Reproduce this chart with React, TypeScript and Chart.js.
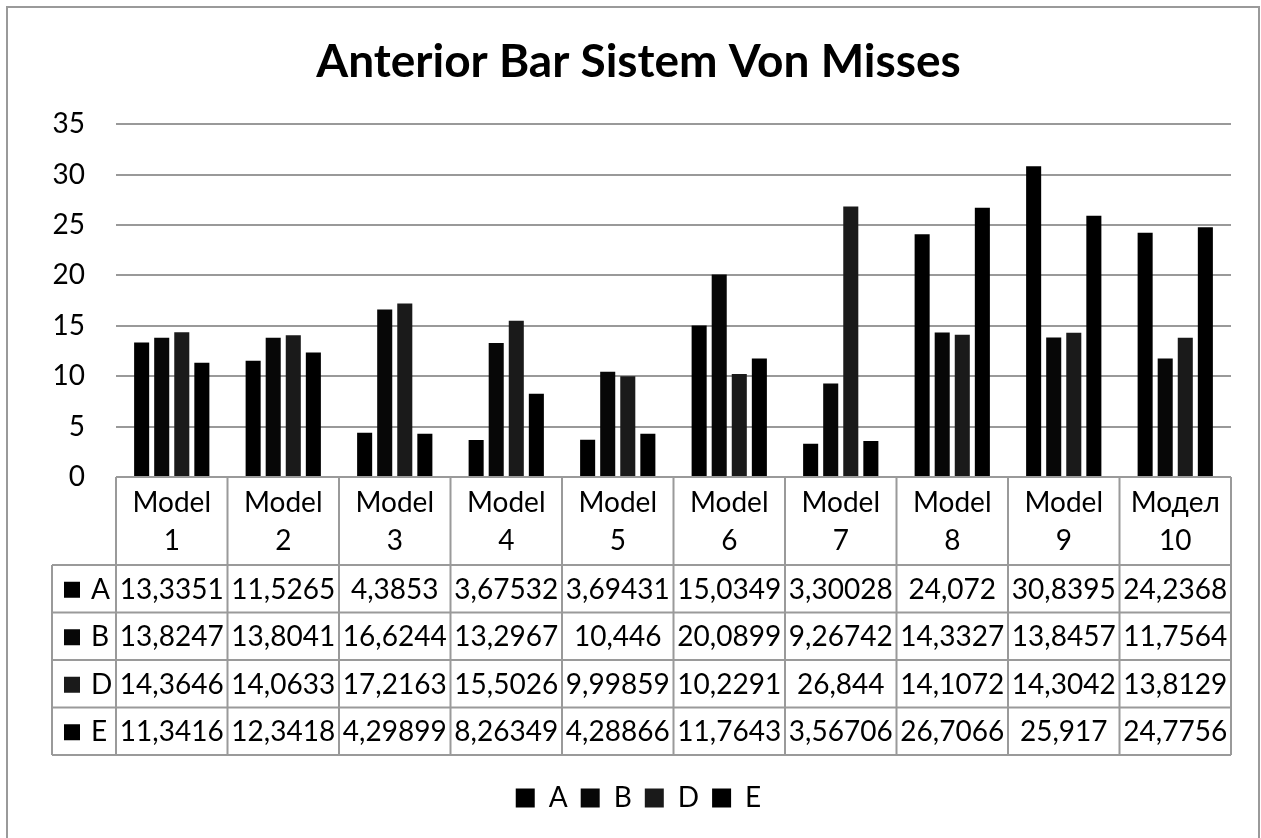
import React, { useEffect, useRef } from "react";
import { Chart, registerables } from "chart.js";

Chart.register(...registerables);

const title = "Anterior Bar Sistem Von Misses";
const categoryLine1 = ["Model", "Model", "Model", "Model", "Model", "Model", "Model", "Model", "Model", "Модел"];
const categoryLine2 = ["1", "2", "3", "4", "5", "6", "7", "8", "9", "10"];
const seriesNames = ["A", "B", "D", "E"];
const seriesA = [13.3351, 11.5265, 4.3853, 3.67532, 3.69431, 15.0349, 3.30028, 24.072, 30.8395, 24.2368];
const seriesB = [13.8247, 13.8041, 16.6244, 13.2967, 10.446, 20.0899, 9.26742, 14.3327, 13.8457, 11.7564];
const seriesD = [14.3646, 14.0633, 17.2163, 15.5026, 9.99859, 10.2291, 26.844, 14.1072, 14.3042, 13.8129];
const seriesE = [11.3416, 12.3418, 4.29899, 8.26349, 4.28866, 11.7643, 3.56706, 26.7066, 25.917, 24.7756];
const seriesColors = ["#000000", "#070707", "#1a1a1a", "#000000"];
const yTicks = [0, 5, 10, 15, 20, 25, 30, 35];

const FONT = "Lato";

const tablePlugin = {
  id: "dataTable",
  afterDraw(chart: any) {
    const { ctx, chartArea } = chart;
    const xScale = chart.scales.x;
    const n = categoryLine1.length;
    const half = (xScale.getPixelForValue(1) - xScale.getPixelForValue(0)) / 2;
    const bounds: number[] = [];
    for (let i = 0; i < n; i++) bounds.push(xScale.getPixelForValue(i) - half);
    bounds.push(xScale.getPixelForValue(n - 1) + half);
    const top = chartArea.bottom;
    const headerBottom = top + 88;
    const rowH = 47.5;
    const tableLeft = 52;
    const rows = [seriesA, seriesB, seriesD, seriesE];
    const tableBottom = headerBottom + rowH * rows.length;
    const right = bounds[n];

    ctx.save();
    ctx.strokeStyle = "#9a9a9a";
    ctx.lineWidth = 2;
    ctx.beginPath();
    ctx.moveTo(bounds[0], top);
    ctx.lineTo(right, top);
    for (let r = 0; r <= rows.length; r++) {
      const y = headerBottom + r * rowH;
      ctx.moveTo(tableLeft, y);
      ctx.lineTo(right, y);
    }
    for (let i = 0; i <= n; i++) {
      ctx.moveTo(bounds[i], top);
      ctx.lineTo(bounds[i], tableBottom);
    }
    ctx.moveTo(tableLeft, headerBottom);
    ctx.lineTo(tableLeft, tableBottom);
    ctx.stroke();

    ctx.fillStyle = "#000";
    ctx.textAlign = "center";
    ctx.textBaseline = "middle";
    ctx.font = `28px ${FONT}`;
    for (let i = 0; i < n; i++) {
      const cx = (bounds[i] + bounds[i + 1]) / 2;
      ctx.fillText(categoryLine1[i], cx, top + 26);
      ctx.fillText(categoryLine2[i], cx, top + 64);
    }
    for (let r = 0; r < rows.length; r++) {
      const cy = headerBottom + r * rowH + rowH / 2 + 1;
      ctx.fillStyle = seriesColors[r];
      ctx.fillRect(64, cy - 8, 16, 16);
      ctx.fillStyle = "#000";
      ctx.textAlign = "left";
      ctx.fillText(seriesNames[r], 91, cy);
      ctx.textAlign = "center";
      for (let i = 0; i < n; i++) {
        const cx = (bounds[i] + bounds[i + 1]) / 2;
        ctx.fillText(String(rows[r][i]).replace(".", ","), cx, cy);
      }
    }
    ctx.restore();
  },
};

export default function App() {
  const ref = useRef<HTMLCanvasElement>(null);
  useEffect(() => {
    const canvas = ref.current;
    if (!canvas) return;
    const chart = new Chart(canvas, {
      type: "bar",
      data: {
        labels: categoryLine2.map((v, i) => categoryLine1[i] + " " + v),
        datasets: [seriesA, seriesB, seriesD, seriesE].map((d, i) => ({
          label: seriesNames[i],
          data: d,
          backgroundColor: seriesColors[i],
          borderWidth: 0,
          categoryPercentage: 0.72,
          barPercentage: 0.75,
        })),
      },
      options: {
        responsive: false,
        animation: false,
        layout: { padding: { left: 46, right: 30, top: 0, bottom: 16 } },
        scales: {
          x: {
            offset: true,
            grid: { display: false },
            border: { display: false },
            ticks: { display: false },
            afterFit: (s: any) => {
              s.height = 294;
            },
          },
          y: {
            min: 0,
            max: 35,
            afterBuildTicks: (s: any) => {
              s.ticks = yTicks.map((v) => ({ value: v }));
            },
            afterFit: (s: any) => {
              s.width = 70;
            },
            grid: { color: "#999999", lineWidth: 2, drawTicks: false },
            border: { display: false },
            ticks: {
              padding: 31,
              color: "#000",
              font: { family: FONT, size: 28 },
            },
          },
        },
        plugins: {
          title: {
            display: true,
            text: title,
            color: "#000",
            font: { family: FONT, size: 46, weight: "bold" },
            padding: { top: 35, bottom: 34 },
          },
          legend: {
            display: true,
            position: "bottom",
            labels: {
              color: "#000",
              font: { family: FONT, size: 28 },
              boxWidth: 19,
              boxHeight: 19,
              padding: 13,
            },
          },
          tooltip: { enabled: false },
        },
      },
      plugins: [tablePlugin],
    });
    return () => chart.destroy();
  }, []);
  return (
    <div style={{ position: "absolute", left: 0, top: 0, width: 1261, height: 838, overflow: "hidden", background: "#fff" }}>
      <div style={{ position: "absolute", left: 6, top: 6, width: 1250, height: 860, border: "2px solid #9a9a9a" }} />
      <canvas ref={ref} width={1261} height={838} style={{ position: "absolute", left: 0, top: 0 }} />
    </div>
  );
}
